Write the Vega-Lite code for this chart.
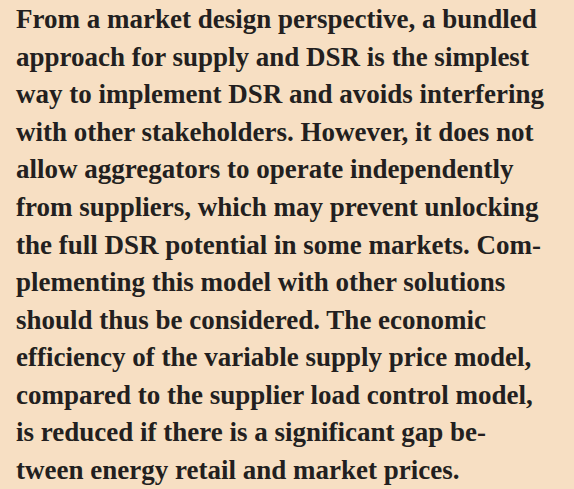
{
  "$schema": "https://vega.github.io/schema/vega-lite/v6.json",
  "width": 542,
  "height": 451,
  "autosize": "none",
  "padding": {"left": 16, "right": 16, "top": 28, "bottom": 10},
  "background": "#f7dfc3",
  "config": {"view": {"stroke": null}},
  "data": {"values": [
    {"line": 1, "text": "From a market design perspective, a bundled"},
    {"line": 2, "text": "approach for supply and DSR is the simplest"},
    {"line": 3, "text": "way to implement DSR and avoids interfering"},
    {"line": 4, "text": "with other stakeholders. However, it does not"},
    {"line": 5, "text": "allow aggregators to operate independently"},
    {"line": 6, "text": "from suppliers, which may prevent unlocking"},
    {"line": 7, "text": "the full DSR potential in some markets. Com-"},
    {"line": 8, "text": "plementing this model with other solutions"},
    {"line": 9, "text": "should thus be considered. The economic"},
    {"line": 10, "text": "efficiency of the variable supply price model,"},
    {"line": 11, "text": "compared to the supplier load control model,"},
    {"line": 12, "text": "is reduced if there is a significant gap be-"},
    {"line": 13, "text": "tween energy retail and market prices."}
  ]},
  "mark": {"type": "text", "align": "left", "baseline": "alphabetic", "font": "Liberation Serif", "fontWeight": "bold", "fontSize": 27, "color": "#231f20"},
  "encoding": {
    "x": {"datum": 0, "type": "quantitative", "scale": {"domain": [0, 1]}, "axis": null},
    "y": {"field": "line", "type": "ordinal", "scale": {"type": "point", "padding": 0}, "axis": null},
    "text": {"field": "text"}
  }
}
